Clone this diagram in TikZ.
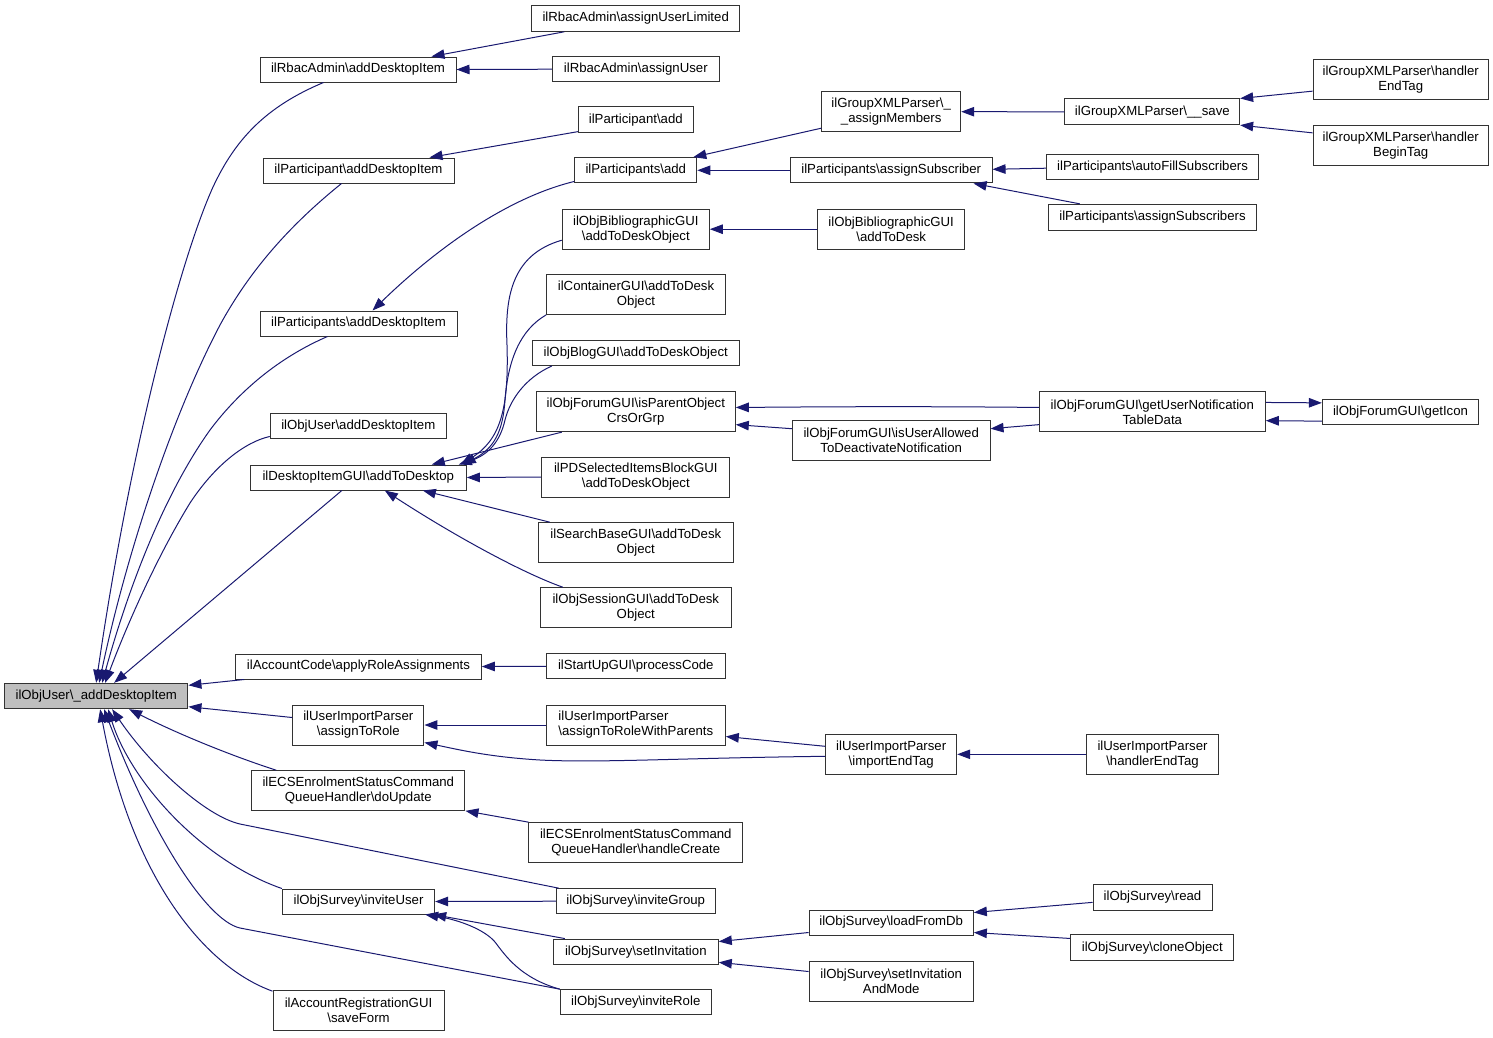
\documentclass[tikz,border=0pt]{standalone}
\usepackage{fontspec}
\setmainfont{Liberation Sans}
\usetikzlibrary{arrows.meta,calc}
\definecolor{navyline}{RGB}{25,25,112}
\definecolor{rootgray}{RGB}{191,191,191}
\newcommand\BS{\textbackslash}
\begin{document}
\begin{tikzpicture}[x=1pt,y=-1pt,
 box/.style={draw=black!80, fill=white, line width=1pt, inner sep=0pt, align=center, font=\fontsize{13.2}{15}\selectfont},
 callarrow/.style={draw=navyline, line width=1pt, -{Triangle[length=13pt,width=9.5pt]}}]
\useasboundingbox (0,0) rectangle (1493,1037);

% nodes
\node[box,minimum width=183.3pt,minimum height=25.4pt,fill=rootgray] (M) at (96.3,696) {ilObjUser\BS\_addDesktopItem};
\node[box,minimum width=196pt,minimum height=25pt] (rbacAdd) at (358,69.5) {ilRbacAdmin\BS{}addDesktopItem};
\node[box,minimum width=208pt,minimum height=25.6pt] (rbacLim) at (635.7,18.5) {ilRbacAdmin\BS{}assignUserLimited};
\node[box,minimum width=167pt,minimum height=25pt] (rbacAssign) at (635.8,69.2) {ilRbacAdmin\BS{}assignUser};
\node[box,minimum width=115pt,minimum height=25.7pt] (partAdd) at (635.8,119.8) {ilParticipant\BS{}add};
\node[box,minimum width=191pt,minimum height=25pt] (partDesk) at (358.5,170.5) {ilParticipant\BS{}addDesktopItem};
\node[box,minimum width=122pt,minimum height=25.3pt] (partsAdd) at (635.8,170.3) {ilParticipants\BS{}add};
\node[box,minimum width=139pt,minimum height=40pt] (gxAssign) at (891.2,111.7) {ilGroupXMLParser\BS\_\\\_assignMembers};
\node[box,minimum width=174.7pt,minimum height=25.7pt] (gxSave) at (1152.3,111.8) {ilGroupXMLParser\BS\_\_save};
\node[box,minimum width=175.3pt,minimum height=39.7pt] (gxEnd) at (1400.7,79.8) {ilGroupXMLParser\BS{}handler\\EndTag};
\node[box,minimum width=175.3pt,minimum height=39.7pt] (gxBegin) at (1400.7,145.2) {ilGroupXMLParser\BS{}handler\\BeginTag};
\node[box,minimum width=201.7pt,minimum height=25.3pt] (partsSub) at (891.2,170.3) {ilParticipants\BS{}assignSubscriber};
\node[box,minimum width=212.3pt,minimum height=25.3pt] (partsAuto) at (1152.5,166.7) {ilParticipants\BS{}autoFillSubscribers};
\node[box,minimum width=208.3pt,minimum height=25.7pt] (partsSubs) at (1152.5,217.2) {ilParticipants\BS{}assignSubscribers};
\node[box,minimum width=147pt,minimum height=39.7pt] (biblioObj) at (635.8,229.2) {ilObjBibliographicGUI\\\BS{}addToDeskObject};
\node[box,minimum width=147pt,minimum height=40pt] (biblioDesk) at (891.2,229.2) {ilObjBibliographicGUI\\\BS{}addToDesk};
\node[box,minimum width=178.6pt,minimum height=39.7pt] (container) at (636,294.5) {ilContainerGUI\BS{}addToDesk\\Object};
\node[box,minimum width=197pt,minimum height=25pt] (partsDesk) at (358.5,323.5) {ilParticipants\BS{}addDesktopItem};
\node[box,minimum width=206.7pt,minimum height=24.5pt] (blog) at (635.7,353.2) {ilObjBlogGUI\BS{}addToDeskObject};
\node[box,minimum width=199pt,minimum height=39.7pt] (forumParent) at (635.8,411.8) {ilObjForumGUI\BS{}isParentObject\\CrsOrGrp};
\node[box,minimum width=226pt,minimum height=39.7pt] (forumTable) at (1152.3,411.8) {ilObjForumGUI\BS{}getUserNotification\\TableData};
\node[box,minimum width=156.3pt,minimum height=25.3pt] (forumIcon) at (1400.5,412) {ilObjForumGUI\BS{}getIcon};
\node[box,minimum width=197.7pt,minimum height=40pt] (forumAllowed) at (891.2,440.7) {ilObjForumGUI\BS{}isUserAllowed\\ToDeactivateNotification};
\node[box,minimum width=176pt,minimum height=25.3pt] (objUserDesk) at (358.3,426.3) {ilObjUser\BS{}addDesktopItem};
\node[box,minimum width=216pt,minimum height=25pt] (desk) at (358.3,477.5) {ilDesktopItemGUI\BS{}addToDesktop};
\node[box,minimum width=188.3pt,minimum height=40pt] (pdSel) at (635.8,477) {ilPDSelectedItemsBlockGUI\\\BS{}addToDeskObject};
\node[box,minimum width=195pt,minimum height=39.7pt] (search) at (635.8,542.5) {ilSearchBaseGUI\BS{}addToDesk\\Object};
\node[box,minimum width=191pt,minimum height=40pt] (session) at (635.8,607.7) {ilObjSessionGUI\BS{}addToDesk\\Object};
\node[box,minimum width=245.6pt,minimum height=25pt] (accCode) at (358.5,666.5) {ilAccountCode\BS{}applyRoleAssignments};
\node[box,minimum width=179pt,minimum height=25.3pt] (startUp) at (635.8,666.3) {ilStartUpGUI\BS{}processCode};
\node[box,minimum width=131.3pt,minimum height=40pt] (roleA) at (358.3,725) {ilUserImportParser\\\BS{}assignToRole};
\node[box,minimum width=179pt,minimum height=40pt,align=left] (roleP) at (635.8,725) {ilUserImportParser\\\BS{}assignToRoleWithParents};
\node[box,minimum width=131pt,minimum height=40pt] (importEnd) at (891.2,754.3) {ilUserImportParser\\\BS{}importEndTag};
\node[box,minimum width=131.7pt,minimum height=40pt] (handlerEnd) at (1152.5,754.3) {ilUserImportParser\\\BS{}handlerEndTag};
\node[box,minimum width=213.3pt,minimum height=39.7pt] (ecsUpd) at (358.3,790.5) {ilECSEnrolmentStatusCommand\\QueueHandler\BS{}doUpdate};
\node[box,minimum width=213.7pt,minimum height=39.7pt] (ecsCreate) at (635.8,842.5) {ilECSEnrolmentStatusCommand\\QueueHandler\BS{}handleCreate};
\node[box,minimum width=152.3pt,minimum height=25pt] (invUser) at (358.5,901.5) {ilObjSurvey\BS{}inviteUser};
\node[box,minimum width=158.7pt,minimum height=25pt] (invGroup) at (635.7,901.2) {ilObjSurvey\BS{}inviteGroup};
\node[box,minimum width=119pt,minimum height=25.7pt] (read) at (1152.5,897.2) {ilObjSurvey\BS{}read};
\node[box,minimum width=164.3pt,minimum height=25pt] (load) at (891.2,922.5) {ilObjSurvey\BS{}loadFromDb};
\node[box,minimum width=165pt,minimum height=25.3pt] (setInv) at (635.8,951.7) {ilObjSurvey\BS{}setInvitation};
\node[box,minimum width=163.3pt,minimum height=25.7pt] (clone) at (1152.3,947.8) {ilObjSurvey\BS{}cloneObject};
\node[box,minimum width=164.3pt,minimum height=40pt] (setInvMode) at (891.2,981) {ilObjSurvey\BS{}setInvitation\\AndMode};
\node[box,minimum width=171pt,minimum height=39.7pt] (accReg) at (358.5,1010.5) {ilAccountRegistrationGUI\\\BS{}saveForm};
\node[box,minimum width=151pt,minimum height=25.3pt] (invRole) at (635.8,1002.3) {ilObjSurvey\BS{}inviteRole};

% edges among callers
\draw[callarrow] ($(rbacLim.south west)+(33,0)$) -- ($(rbacAdd.north west)+(172,0)$);
\draw[callarrow] (rbacAssign.west) -- (rbacAdd.east);
\draw[callarrow] ($(partAdd.south west)+(0,-1.5)$) -- ($(partDesk.north west)+(167,0)$);
\draw[callarrow] ($(partsAdd.south west)+(0,-2)$) .. controls (510,197) and (440,245) .. ($(partsDesk.north west)+(113,0)$);
\draw[callarrow] ($(gxAssign.south west)+(0,-4)$) -- ($(partsAdd.north east)+(-4,0)$);
\draw[callarrow] (partsSub.west) -- (partsAdd.east);
\draw[callarrow] (gxSave.west) -- (gxAssign.east);
\draw[callarrow] ($(gxEnd.south west)+(0,-9)$) -- (gxSave.north east);
\draw[callarrow] ($(gxBegin.north west)+(0,8)$) -- (gxSave.south east);
\draw[callarrow] ($(partsAuto.west)+(0,1.5)$) -- ($(partsSub.east)+(0,-1)$);
\draw[callarrow] ($(partsSubs.north west)+(32,0)$) -- ($(partsSub.south east)+(-19,0)$);
\draw[callarrow] (biblioDesk.west) -- (biblioObj.east);
\draw[callarrow] ($(biblioObj.west)+(0,11)$) .. controls (510,255) and (505,300) .. (507,345) .. controls (509,410) and (500,440) .. ($(desk.north east)+(-6,0)$);
\draw[callarrow] (container.south west) .. controls (520,330) and (508,360) .. (505,400) .. controls (503,430) and (495,448) .. ($(desk.north east)+(-4,0)$);
\draw[callarrow] ($(blog.south west)+(20,0)$) .. controls (525,378) and (510,400) .. (505,420) .. controls (500,442) and (488,455) .. ($(desk.north east)+(-8,0)$);
\draw[callarrow] ($(forumParent.south west)+(26,0)$) -- ($(desk.north west)+(182,0)$);
\draw[callarrow] (pdSel.west) -- (desk.east);
\draw[callarrow] ($(search.north west)+(12,0)$) -- ($(desk.south west)+(173,0)$);
\draw[callarrow] ($(session.north west)+(23,0)$) .. controls (520,572) and (450,533) .. ($(desk.south west)+(135,0)$);
\draw[callarrow] ($(forumTable.north west)+(0,16)$) .. controls (900,406) and (800,407) .. ($(forumParent.north east)+(0,16)$);
\draw[callarrow] ($(forumAllowed.north west)+(0,8.5)$) -- ($(forumParent.south east)+(0,-7.5)$);
\draw[callarrow] ($(forumTable.south west)+(0,-7.5)$) -- ($(forumAllowed.north east)+(0,8.5)$);
\draw[callarrow] ($(forumTable.north east)+(0,11)$) -- ($(forumIcon.north west)+(0,4)$);
\draw[callarrow] ($(forumIcon.south west)+(0,-4)$) -- ($(forumTable.south east)+(0,-11.5)$);
\draw[callarrow] (startUp.west) -- (accCode.east);
\draw[callarrow] (roleP.west) -- (roleA.east);
\draw[callarrow] ($(importEnd.north west)+(0,12.5)$) -- ($(roleP.north east)+(0,32)$);
\draw[callarrow] ($(importEnd.west)+(0,2)$) .. controls (680,758) and (600,763) .. (540,760) .. controls (490,757) and (460,750) .. ($(roleA.south east)+(0,-3)$);
\draw[callarrow] (handlerEnd.west) -- (importEnd.east);
\draw[callarrow] (ecsCreate.north west) -- (ecsUpd.south east);
\draw[callarrow] (invGroup.west) -- (invUser.east);
\draw[callarrow] ($(setInv.north west)+(12,0)$) -- ($(invUser.south east)+(-2,0)$);
\draw[callarrow] (invRole.north west) .. controls (520,978) and (505,955) .. (495,942) .. controls (485,930) and (460,920) .. ($(invUser.south east)+(-10,0)$);
\draw[callarrow] ($(load.south west)+(0,-3)$) -- ($(setInv.north east)+(0,3)$);
\draw[callarrow] ($(setInvMode.north west)+(0,11)$) -- ($(setInv.south east)+(0,-2.5)$);
\draw[callarrow] ($(read.north west)+(0,18.5)$) -- ($(load.north east)+(0,3)$);
\draw[callarrow] ($(clone.north west)+(0,4)$) -- ($(load.south east)+(0,-3)$);

% edges into the root
\draw[callarrow] ($(rbacAdd.south west)+(64,0)$) .. controls (265,107) and (235,140) .. (213,187) .. controls (180,260) and (130,450) .. ($(M.north west)+(92,0)$);
\draw[callarrow] ($(partDesk.south west)+(79,0)$) .. controls (290,225) and (250,270) .. (220,325) .. controls (170,420) and (125,560) .. ($(M.north west)+(95,0)$);
\draw[callarrow] ($(partsDesk.south west)+(68,0)$) .. controls (280,357) and (240,390) .. (210,430) .. controls (160,500) and (125,600) .. ($(M.north west)+(98,0)$);
\draw[callarrow] ($(objUserDesk.south west)+(0,-3)$) .. controls (245,442) and (215,465) .. (190,503) .. controls (155,560) and (125,630) .. ($(M.north west)+(101,0)$);
\draw[callarrow] ($(desk.south west)+(92,0)$) -- ($(M.north west)+(110,0)$);
\draw[callarrow] ($(accCode.south west)+(9,0)$) -- ($(M.north east)+(0,2.5)$);
\draw[callarrow] ($(roleA.north west)+(0,13)$) -- ($(M.south east)+(0,-2.5)$);
\draw[callarrow] ($(ecsUpd.north west)+(25,0)$) .. controls (235,757) and (180,735) .. ($(M.south west)+(125,0)$);
\draw[callarrow] ($(invGroup.north west)+(3,0)$) -- (240,824) .. controls (205,816) and (150,765) .. ($(M.south west)+(108,0)$);
\draw[callarrow] (invUser.north west) .. controls (200,860) and (130,780) .. ($(M.south west)+(104,0)$);
\draw[callarrow] (invRole.north west) -- (240,928) .. controls (205,920) and (150,830) .. ($(M.south west)+(100,0)$);
\draw[callarrow] ($(accReg.north west)+(0,1)$) .. controls (200,965) and (130,870) .. ($(M.south west)+(96,0)$);
\end{tikzpicture}
\end{document}
